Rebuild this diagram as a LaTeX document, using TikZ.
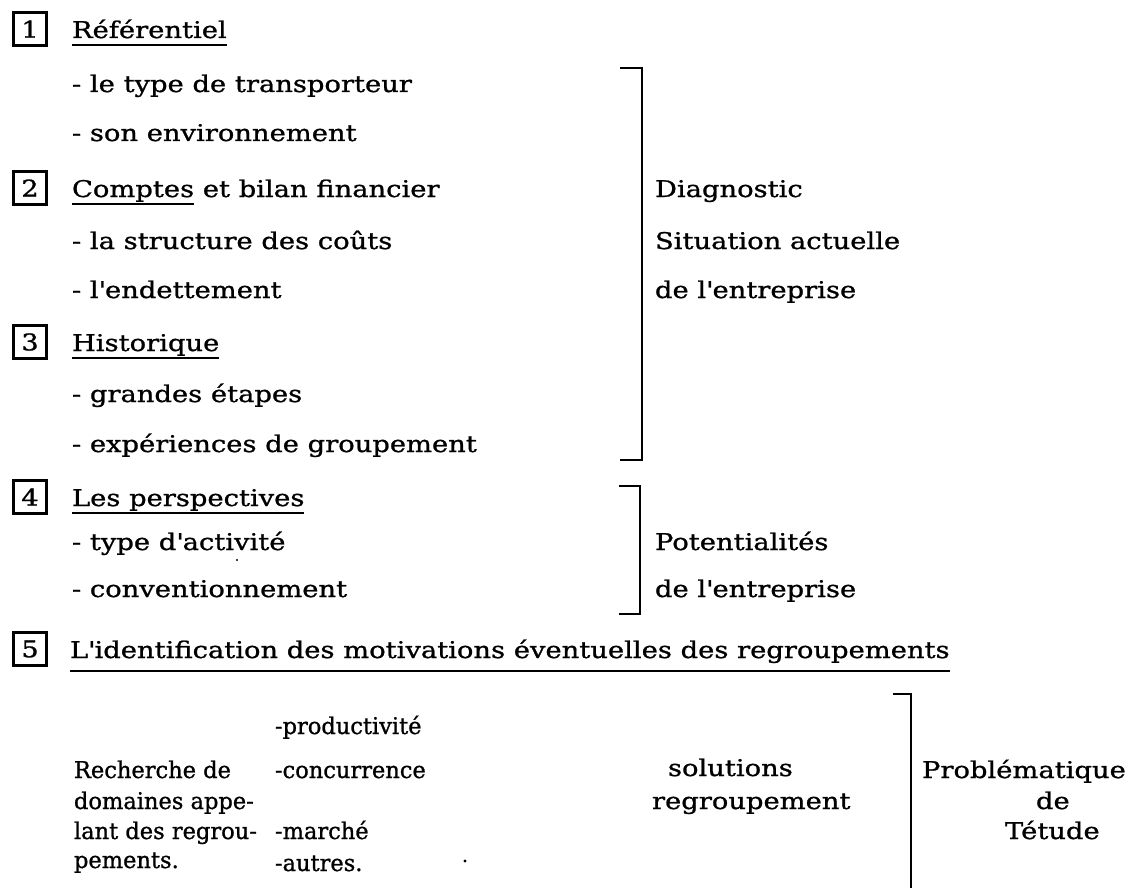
\documentclass[tikz,border=0pt]{standalone}
\usepackage{fontspec}
\newfontfamily\twA{DejaVu Serif}[FakeStretch=1.19,FakeBold=1]
\newfontfamily\twB{DejaVu Serif}[FakeStretch=0.98,FakeBold=1]
\newcommand\twfont{\twA\fontsize{23}{27}\selectfont}
\newcommand\twnarrow{\twB\fontsize{23}{27}\selectfont}
\newcommand\ap{\textquotesingle}
\begin{document}
\begin{tikzpicture}[x=1pt,y=-1pt,
  txt/.style={anchor=base west,inner sep=0pt,outer sep=0pt,font=\twfont},
  ntxt/.style={anchor=base west,inner sep=0pt,outer sep=0pt,font=\twnarrow},
  numbox/.style={draw,line width=2.2pt,minimum width=33pt,minimum height=33pt,inner sep=0pt,font=\twfont},
  ul/.style={line width=1.7pt},
  brk/.style={line width=2pt},
  speck/.style={fill=black,draw=none}]
\useasboundingbox (0,0) rectangle (1130,888);
% section 1
\node[numbox] (n1) at (30,29) {1};
\node[txt] (h1) at (72,38) {Référentiel};
\draw[ul] ([yshift=-7pt]h1.base west) -- ([yshift=-7pt]h1.base east);
\node[txt] (i11) at (72,92) {- le type de transporteur};
\node[txt] (i12) at (72,141) {- son environnement};
% section 2
\node[numbox] (n2) at (30,188) {2};
\node[txt] (h2) at (72,197) {Comptes};
\node[txt] (h2b) at (h2.base east) {\ et bilan financier};
\draw[ul] ([yshift=-7pt]h2.base west) -- ([yshift=-7pt]h2.base east);
\node[txt] (i21) at (72,249) {- la structure des coûts};
\node[txt] (i22) at (72,298) {- l\ap endettement};
% section 3
\node[numbox] (n3) at (30,342) {3};
\node[txt] (h3) at (72,351) {Historique};
\draw[ul] ([yshift=-7pt]h3.base west) -- ([yshift=-7pt]h3.base east);
\node[txt] (i31) at (72,402) {- grandes étapes};
\node[txt] (i32) at (72,452) {- expériences de groupement};
% section 4
\node[numbox] (n4) at (30,497) {4};
\node[txt] (h4) at (72,506) {Les perspectives};
\draw[ul] ([yshift=-7pt]h4.base west) -- ([yshift=-7pt]h4.base east);
\node[txt] (i41) at (72,550) {- type d\ap activité};
\node[txt] (i42) at (72,597) {- conventionnement};
% bracket 1
\coordinate (k1a) at (620,68);
\coordinate (k1b) at (642,68);
\coordinate (k1c) at (642,460);
\coordinate (k1d) at (620,460);
\draw[brk] (k1a) -- (k1b) -- (k1c) -- (k1d);
\node[txt] (d1) at (655,197) {Diagnostic};
\node[txt] (d2) at (655,249) {Situation actuelle};
\node[txt] (d3) at (655,298) {de l\ap entreprise};
% bracket 2
\coordinate (k2a) at (619,486);
\coordinate (k2b) at (640,486);
\coordinate (k2c) at (640,614);
\coordinate (k2d) at (619,614);
\draw[brk] (k2a) -- (k2b) -- (k2c) -- (k2d);
\node[txt] (e1) at (655,550) {Potentialités};
\node[txt] (e2) at (655,597) {de l\ap entreprise};
% section 5
\node[numbox] (n5) at (30,649) {5};
\node[txt] (h5) at (70,658) {L\ap identification des motivations éventuelles des regroupements};
\draw[ul] ([yshift=-13pt]h5.base west) -- ([yshift=-13pt]h5.base east);
\node[ntxt] (r1) at (74,778) {Recherche de};
\node[ntxt] (r2) at (74,809) {domaines appe-};
\node[ntxt] (r3) at (74,839) {lant des regrou-};
\node[ntxt] (r4) at (74,868) {pements.};
\node[ntxt] (m1) at (275,734) {-productivité};
\node[ntxt] (m2) at (275,778) {-concurrence};
\node[ntxt] (m3) at (275,839) {-marché};
\node[ntxt] (m4) at (275,871) {-autres.};
\node[txt] (s1) at (668,776) {solutions};
\node[txt] (s2) at (652,809) {regroupement};
% bracket 3
\coordinate (k3a) at (893,694);
\coordinate (k3b) at (911,694);
\coordinate (k3c) at (911,888);
\draw[brk] (k3a) -- (k3b) -- (k3c);
\node[txt] (p1) at (922,778) {Problématique};
\node[txt] (p2) at (1036,809) {de};
\node[txt] (p3) at (1005,839) {Tétude};
% scan specks
\fill[speck] (237,560) circle (1.2);
\fill[speck] (465,861) circle (1.6);
\end{tikzpicture}
\end{document}
